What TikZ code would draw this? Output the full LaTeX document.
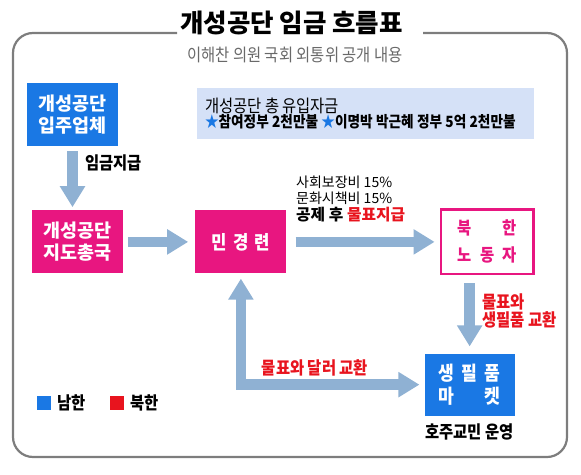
\documentclass[tikz,border=0pt]{standalone}
\usepackage{fontspec}
\setmainfont{Noto Sans CJK KR}
\newfontfamily\narrowfont{Noto Sans CJK KR}[FakeStretch=0.88]
\usepackage{xcolor}
\usetikzlibrary{positioning, arrows.meta}

\definecolor{southblue}{RGB}{26,120,228}
\definecolor{northpink}{RGB}{232,22,128}
\definecolor{flowblue}{RGB}{143,177,211}
\definecolor{infofill}{RGB}{213,225,247}
\definecolor{northred}{RGB}{232,20,30}
\definecolor{framegray}{RGB}{125,125,125}
\definecolor{subgray}{RGB}{105,105,105}

\begin{document}
\begin{tikzpicture}[
  x=1pt, y=-1pt,
  >={Triangle[length=21pt, width=24pt]},
  sbox/.style={rectangle, fill=southblue, text=white, minimum width=91pt,
               minimum height=63pt, inner sep=0pt, align=center,
               font=\bfseries\fontsize{18.5}{22}\selectfont},
  nbox/.style={sbox, fill=northpink},
  outbox/.style={rectangle, draw=northpink, line width=2.6pt, fill=white,
                 text=northpink, minimum width=92.5pt, minimum height=64.5pt,
                 inner sep=0pt, align=center, font=\narrowfont\bfseries\fontsize{17.5}{27}\selectfont},
  info/.style={rectangle, fill=infofill, text width=321pt, inner xsep=8pt,
               minimum height=51pt, align=left},
  flow/.style={->, line width=10.5pt, draw=flowblue},
  lbl/.style={inner sep=0pt, font=\narrowfont\bfseries\fontsize{17.5}{18}\selectfont},
  redlbl/.style={lbl, text=northred},
  keybox/.style={rectangle, minimum size=13.5pt, inner sep=0pt},
]
  \useasboundingbox (0,0) rectangle (581,474);

  % frame and heading
  \draw[framegray, line width=2.2pt, rounded corners=20pt]
    (177,33) -- (13,33) -- (13,457) -- (567,457) -- (567,33) -- (423,33);
  \node[font=\bfseries\fontsize{25.5}{30}\selectfont] (title) at (291.5,23) {개성공단 임금 흐름표};
  \node[font=\narrowfont\fontsize{17.5}{18}\selectfont, text=subgray] (subtitle) at (295,55) {이해찬 의원 국회 외통위 공개 내용};

  \node[info] (inflow) at (365.5,113.5)
    {{\narrowfont\fontsize{17.5}{20}\selectfont 개성공단 총 유입자금}\\
     {\narrowfont\bfseries\fontsize{15.5}{20}\selectfont\textcolor{southblue}{★}참여정부 2천만불 \textcolor{southblue}{★}이명박 박근혜 정부 5억 2천만불}};

  % boxes
  \node[sbox] (firm) at (72.5,114.5) {개성공단\\입주업체};
  \node[nbox, below=64pt of firm, xshift=5pt] (bureau) {개성공단\\지도총국};
  \node[nbox, right=72pt of bureau, font=\narrowfont\bfseries\fontsize{19}{22}\selectfont] (minkyung)
    {\makebox[58pt][s]{민\hfill 경\hfill 련}};
  \node[outbox, right=153pt of minkyung] (workers)
    {\makebox[60pt][s]{북\hfill 한}\\\makebox[60pt][s]{노\hfill 동\hfill 자}};
  \node[sbox, below=78pt of workers, xshift=-17.5pt, minimum width=90pt, minimum height=62pt,
        font=\narrowfont\bfseries\fontsize{19.5}{23.5}\selectfont] (market)
    {\makebox[62pt][s]{생\hfill 필\hfill 품}\\\makebox[62pt][s]{마\hfill 켓}};

  % flows
  \draw[flow, shorten <=5pt, shorten >=3pt] (firm.south) -- (firm.south |- bureau.north);
  \draw[flow, shorten <=5pt, shorten >=7pt] (bureau.east) -- (minkyung.west);
  \draw[flow, shorten <=9pt, shorten >=5pt] (minkyung.east) -- (minkyung.east -| workers.west);
  \draw[flow, shorten <=8pt, shorten >=7pt] (market.north |- workers.south) -- (market.north);
  \draw[flow, <->, shorten <=5pt, shorten >=5pt] (minkyung.south) |- (market.west);

  % labels
  \node[lbl, anchor=west] (paylbl) at (85,163) {임금지급};
  \node[anchor=west, align=left, inner sep=0pt, font=\fontsize{14}{15.5}\selectfont] (deduct) at (296,199)
    {사회보장비 15\%\\문화시책비 15\%\\[1.5pt]{\bfseries\fontsize{15.8}{15.5}\selectfont 공제 후 \textcolor{northred}{물표지급}}};
  \node[redlbl, align=left, anchor=west] (goodslbl) at (482,311) {물표와\\생필품 교환};
  \node[redlbl] (dollarlbl) at (315,368) {물표와 달러 교환};
  \node[lbl, below=8pt of market] (operator) {호주교민 운영};

  % legend
  \node[keybox, fill=southblue] (keysouth) at (44,403) {};
  \node[lbl, right=6pt of keysouth] (keysouthlbl) {남한};
  \node[keybox, fill=northred] (keynorth) at (117,403) {};
  \node[lbl, right=6pt of keynorth] (keynorthlbl) {북한};
\end{tikzpicture}
\end{document}
